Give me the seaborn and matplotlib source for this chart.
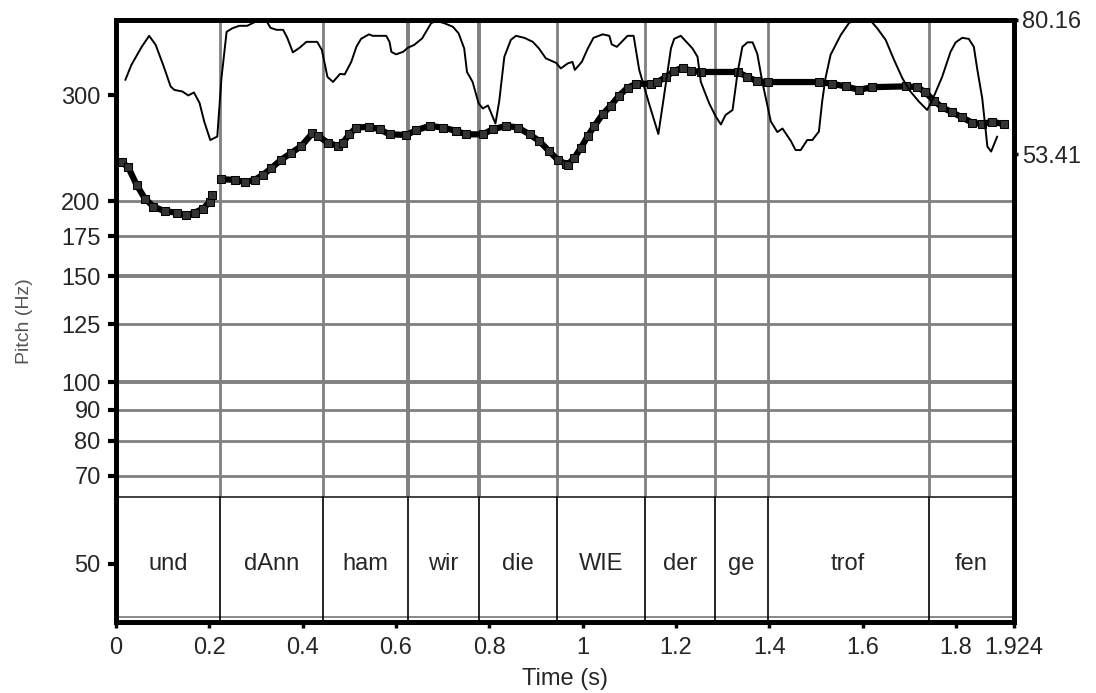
import numpy as np
import pandas as pd
import matplotlib
matplotlib.use("Agg")
import matplotlib.pyplot as plt
from matplotlib.ticker import NullLocator
import seaborn as sns

# ---------------- data ----------------
pitch_time_1 = [0.012, 0.026, 0.044, 0.062, 0.080, 0.104, 0.130, 0.151, 0.169, 0.187, 0.201, 0.206]
pitch_hz_1 = [232, 228, 213, 202, 196, 192.5, 191.5, 189.5, 191.5, 194.5, 199.6, 205]

pitch_time_2 = [0.226, 0.254, 0.276, 0.297, 0.315, 0.333, 0.354, 0.376, 0.397, 0.421,
                0.433, 0.454, 0.476, 0.486, 0.500, 0.515, 0.543, 0.565, 0.586, 0.622,
                0.643, 0.672, 0.700, 0.729, 0.750, 0.786, 0.807, 0.836, 0.861, 0.886,
                0.907, 0.928, 0.946, 0.964, 0.968, 0.982, 0.996, 1.011, 1.025, 1.043,
                1.060, 1.078, 1.096, 1.114, 1.146, 1.160, 1.178, 1.196, 1.214, 1.232,
                1.253, 1.332, 1.353, 1.374, 1.396, 1.506, 1.535, 1.563, 1.592, 1.620,
                1.692, 1.717, 1.734, 1.752, 1.770, 1.792, 1.813, 1.834, 1.856, 1.877,
                1.902]
pitch_hz_2 = [217.6, 217.0, 215.1, 217.0, 221.3, 227.0, 234.5, 240.7, 247.0, 259.5,
              256.7, 250.1, 247.0, 250.1, 258.3, 265.1, 265.8, 263.3, 258.3, 257.7,
              262.3, 266.8, 265.1, 261.7, 258.3, 258.3, 263.3, 266.8, 265.1, 258.3,
              251.7, 242.2, 234.5, 230.6, 230.0, 236.1, 245.3, 256.7, 266.8, 279.1,
              288.3, 299.6, 308.6, 313.4, 313.4, 315.5, 321.7, 329.2, 333.4, 329.2,
              327.9, 327.9, 321.7, 316.3, 315.5, 315.5, 313.4, 310.3, 306.2, 309.4,
              310.3, 309.4, 303.5, 293.9, 286.4, 280.9, 275.5, 270.2, 268.5, 271.3,
              268.5]

int_time = [0.020, 0.033, 0.055, 0.071, 0.085, 0.101, 0.117, 0.125, 0.142, 0.155,
            0.167, 0.179, 0.189, 0.202, 0.217, 0.226, 0.237, 0.249, 0.264, 0.281,
            0.294, 0.304, 0.322, 0.331, 0.344, 0.358, 0.367, 0.379, 0.393, 0.408,
            0.431, 0.441, 0.453, 0.465, 0.480, 0.490, 0.504, 0.515, 0.525, 0.542,
            0.550, 0.579, 0.586, 0.590, 0.600, 0.615, 0.625, 0.639, 0.656, 0.675,
            0.686, 0.704, 0.722, 0.734, 0.746, 0.752, 0.764, 0.772, 0.777, 0.786,
            0.797, 0.813, 0.821, 0.832, 0.846, 0.857, 0.875, 0.893, 0.906, 0.921,
            0.943, 0.953, 0.968, 0.978, 0.983, 0.998, 1.011, 1.023, 1.043, 1.057,
            1.062, 1.073, 1.096, 1.109, 1.121, 1.142, 1.162, 1.174, 1.189, 1.196,
            1.210, 1.225, 1.235, 1.246, 1.253, 1.271, 1.285, 1.296, 1.306, 1.321,
            1.332, 1.342, 1.353, 1.364, 1.374, 1.385, 1.403, 1.417, 1.428, 1.446,
            1.456, 1.467, 1.481, 1.492, 1.506, 1.513, 1.520, 1.531, 1.553, 1.570,
            1.578, 1.617, 1.631, 1.649, 1.667, 1.685, 1.702, 1.720, 1.738, 1.749,
            1.770, 1.788, 1.799, 1.813, 1.827, 1.838, 1.845, 1.856, 1.867, 1.875,
            1.888]
int_db = [68.2, 71.2, 74.8, 77.0, 75.2, 71.2, 66.9, 66.2, 65.9, 65.1,
          65.7, 63.6, 59.9, 56.2, 56.9, 68.6, 77.8, 78.5, 79.0, 79.0,
          79.6, 80.0, 80.0, 78.6, 78.2, 78.2, 76.6, 73.7, 74.6, 75.8,
          75.8, 74.2, 68.8, 67.8, 69.4, 69.3, 71.8, 74.8, 76.4, 77.3,
          77.0, 77.0, 75.8, 73.8, 73.3, 73.8, 74.6, 75.2, 76.5, 79.5,
          80.0, 79.5, 78.8, 77.5, 74.5, 69.8, 67.8, 65.2, 63.5, 62.5,
          63.1, 59.5, 63.9, 72.8, 76.2, 77.0, 76.6, 75.8, 74.5, 72.5,
          71.6, 70.5, 71.5, 71.8, 70.2, 71.8, 74.5, 76.6, 77.3, 77.0,
          75.3, 74.8, 77.0, 77.0, 70.2, 63.5, 57.4, 64.9, 74.5, 76.4,
          77.0, 75.5, 74.5, 72.8, 67.8, 63.5, 60.9, 59.3, 61.2, 62.2,
          69.8, 74.8, 75.7, 75.7, 73.4, 67.7, 59.9, 57.8, 58.5, 56.0,
          54.2, 54.2, 56.2, 56.2, 57.9, 63.9, 68.5, 73.2, 77.2, 79.5,
          80.0, 80.0, 78.5, 76.2, 72.2, 68.5, 65.9, 63.9, 62.2, 64.2,
          68.8, 73.8, 75.7, 76.6, 76.4, 74.8, 70.5, 64.5, 54.9, 53.9,
          56.9]

words = ["und", "dAnn", "ham", "wir", "die", "WIE", "der", "ge", "trof", "fen"]
word_bounds = [0.0, 0.2226, 0.444, 0.625, 0.7785, 0.945, 1.133, 1.284, 1.396, 1.741, 1.924]

pitch_ticks = [50, 70, 80, 90, 100, 125, 150, 175, 200, 300]
pitch_gridlines = [70, 80, 90, 100, 125, 150, 175, 200]
time_ticks = [0, 0.2, 0.4, 0.6, 0.8, 1.0, 1.2, 1.4, 1.6, 1.8, 1.924]
time_tick_labels = ["0", "0.2", "0.4", "0.6", "0.8", "1", "1.2", "1.4", "1.6", "1.8", "1.924"]
int_ticks = [53.41, 80.16]
int_tick_labels = ["53.41", "80.16"]

# ---------------- style ----------------
sns.set_style("white")
plt.rcParams['font.family'] = ['Liberation Sans', 'DejaVu Sans']

W, H = 1096, 693
fig = plt.figure(figsize=(W / 100, H / 100), dpi=100)
left_px, right_px, top_px, bot_px = 116, 1014, 20, 622
ax = fig.add_axes([left_px / W, 1 - bot_px / H, (right_px - left_px) / W, (bot_px - top_px) / H])

ax.set_xlim(0, 1.924)
ax.set_yscale('log')
ax.set_ylim(40, 400)

tier_frac = 0.2076
grid_col = '#808080'
FS = 17

# horizontal grid (upper region only)
for g in pitch_gridlines:
    lw = 2.8 if g in (100, 150) else 2.0
    ax.axhline(g, color=grid_col, lw=lw, zorder=1)
# vertical grid at word boundaries
for b in word_bounds[1:-1]:
    lw = 2.8 if b in (0.625, 0.7785) else 2.0
    ax.axvline(b, ymin=tier_frac, ymax=1, color=grid_col, lw=lw, zorder=1)

# text tier
ax.fill_between([0, 1], [0, 0], [tier_frac, tier_frac], transform=ax.transAxes,
                color='white', zorder=2)
ax.plot([0, 1], [tier_frac, tier_frac], transform=ax.transAxes, color='#333333', lw=1.3, zorder=3)
ax.plot([0, 1], [0.008, 0.008], transform=ax.transAxes, color=grid_col, lw=1.3, zorder=3)
for b in word_bounds[1:-1]:
    ax.axvline(b, ymin=0, ymax=tier_frac, color='black', lw=1.2, zorder=3)
for w, a, b in zip(words, word_bounds[:-1], word_bounds[1:]):
    ax.text((a + b) / 2, 50, w, ha='center', va='center', fontsize=FS, zorder=4)

# pitch curve
for tt, ff in ((pitch_time_1, pitch_hz_1), (pitch_time_2, pitch_hz_2)):
    sns.lineplot(x=tt, y=ff, ax=ax, color='black', lw=4.5, marker='s', markersize=6,
                 markeredgecolor='black', markerfacecolor='#333333', estimator=None,
                 sort=False, zorder=5)

ax.set_yticks(pitch_ticks)
ax.set_yticklabels([str(v) for v in pitch_ticks])
ax.yaxis.set_minor_locator(NullLocator())
ax.set_xticks(time_ticks)
ax.set_xticklabels(time_tick_labels)
ax.tick_params(axis='y', which='major', direction='out', length=6, width=3,
               labelsize=FS, pad=5, color='black', left=True)
ax.tick_params(axis='x', which='major', direction='out', length=4, width=2.5,
               labelsize=FS, pad=7, color='black', bottom=True)
ax.set_xlabel('Time (s)', fontsize=FS, labelpad=6)
ax.set_ylabel('Pitch (Hz)', fontsize=14, color='#555555', labelpad=20)
for s in ax.spines.values():
    s.set_color('black')
    s.set_linewidth(3.4)
ax.grid(False)

# intensity curve on right axis
ax2 = ax.twinx()
sns.lineplot(x=int_time, y=int_db, ax=ax2, color='black', lw=1.4, estimator=None, sort=False)
ax2.set_ylim(-40.0, 80.16)
ax2.set_yticks(int_ticks)
ax2.set_yticklabels(int_tick_labels)
ax2.tick_params(axis='y', direction='out', length=3, width=2.5, labelsize=FS, pad=3,
                right=True, color='black')
ax2.set_ylabel('')
ax2.grid(False)
for name, s in ax2.spines.items():
    s.set_color('black')
    s.set_linewidth(3.4)

fig.savefig('out.png', dpi=100)
